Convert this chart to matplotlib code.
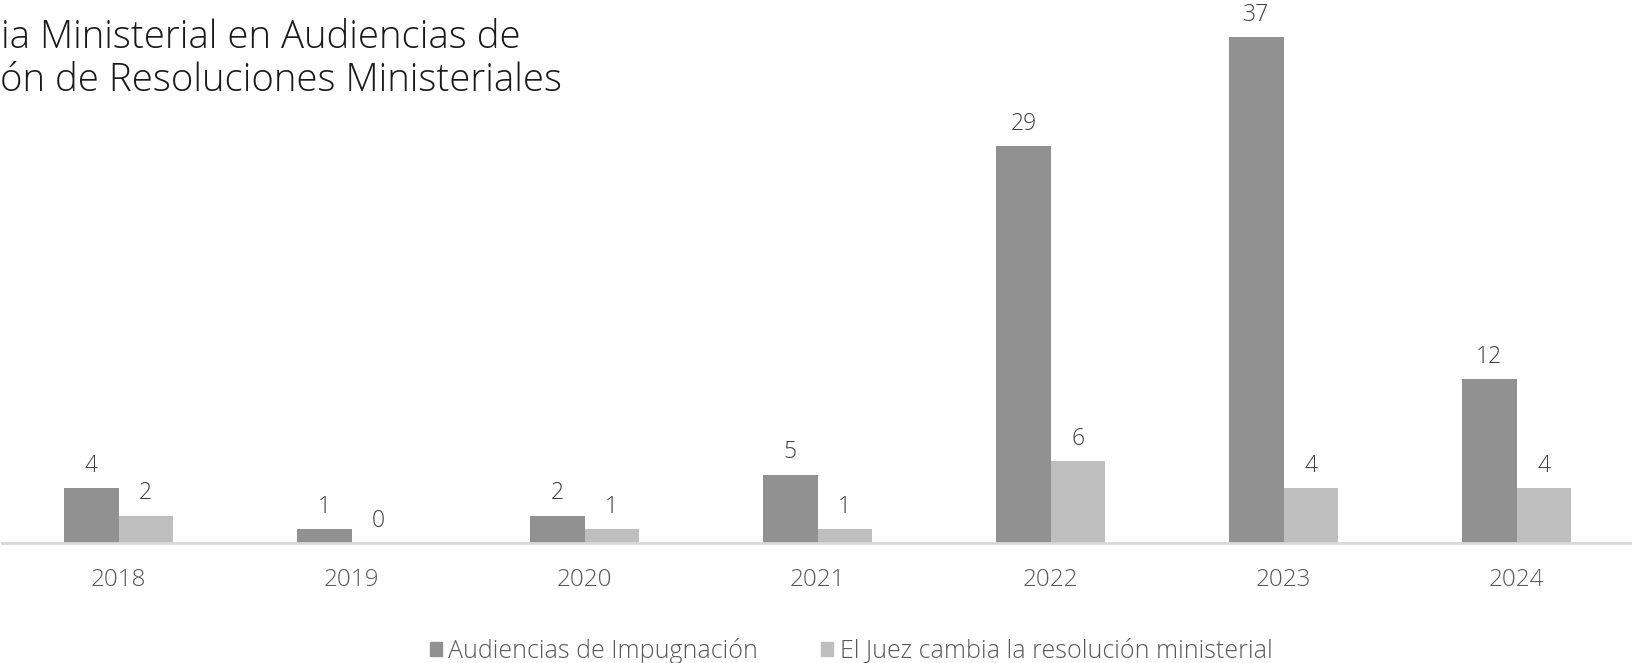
import matplotlib
matplotlib.use("Agg")
import matplotlib.pyplot as plt
from matplotlib.patches import Patch
import numpy as np

years = ["2018", "2019", "2020", "2021", "2022", "2023", "2024"]
audiencias = [4, 1, 2, 5, 29, 37, 12]
juez_cambia = [2, 0, 1, 1, 6, 4, 4]
series_names = ["Audiencias de Impugnación", "El Juez cambia la resolución ministerial"]
# the reference shows the title cut at the left edge of the image
title_lines = ["ia Ministerial en Audiencias de", "ón de Resoluciones Ministeriales"]

dark = "#919191"
light = "#bfbfbf"
FONT = ["Open Sans", "DejaVu Sans"]
plt.rcParams["font.family"] = FONT

W, H = 1632, 663
fig = plt.figure(figsize=(W / 100, H / 100), dpi=100)
base_px = 543
ax = fig.add_axes([2 / W, (H - base_px) / H, 1631 / W, base_px / H])

x = np.arange(len(years))
bw = 0.233
b1 = ax.bar(x - bw / 2, audiencias, bw, color=dark)
b2 = ax.bar(x + bw / 2, juez_cambia, bw, color=light)

for bars, vals in ((b1, audiencias), (b2, juez_cambia)):
    for r, v in zip(bars, vals):
        ax.annotate(str(v), (r.get_x() + r.get_width() / 2, v), xytext=(0, 16),
                    textcoords="offset points", ha="center", va="center",
                    fontsize=16.5, color="#404040", fontweight="light")

ax.set_xlim(-0.5, 6.5)
ax.set_ylim(0, 39.7)
ax.set_yticks([])
ax.set_xticks(x)
ax.set_xticklabels(years, fontsize=17.5, color="#595959", fontweight="light")
ax.tick_params(axis="x", length=0, pad=18)
for s in ["top", "right", "left"]:
    ax.spines[s].set_visible(False)
ax.spines["bottom"].set_color("#d9d9d9")
ax.spines["bottom"].set_linewidth(2)

fig.text(1 / W, 1 - 37.5 / H, title_lines[0], ha="left", va="center",
         fontsize=27.6, color="#1a1a1a", fontweight="light")
fig.text(0 / W, 1 - 81 / H, title_lines[1], ha="left", va="center",
         fontsize=27.6, color="#1a1a1a", fontweight="light")

handles = [Patch(color=dark), Patch(color=light)]
fig.legend(handles, series_names, ncol=2, loc="center", bbox_to_anchor=(851 / W, 1 - 651 / H),
           frameon=False, labelcolor="#595959", handlelength=0.5, handleheight=0.5,
           handletextpad=0.25, columnspacing=2.5, prop={"weight": "light", "size": 18})

fig.savefig("out.png", dpi=100)
